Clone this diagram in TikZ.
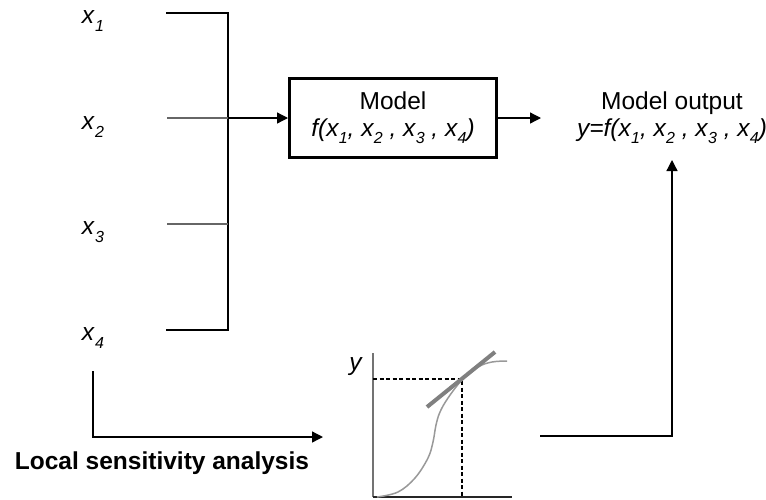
\documentclass[tikz,border=0pt]{standalone}
\usepackage{fontspec}
\setmainfont{Liberation Sans}
\usetikzlibrary{arrows.meta}
\newcommand\xv[1]{\textit{x}\kern0.3pt\raisebox{-0.32em}{\fontsize{16}{16}\selectfont\textit{#1}}}
\begin{document}
\begin{tikzpicture}[x=1pt,y=-1pt,
  conn/.style={line width=1.3pt, black},
  stub/.style={line width=1.8pt, black!60},
  tip/.style={-{Triangle[length=11pt,width=11pt]}},
  lbl/.style={font=\fontsize{24.5}{28}\selectfont, inner sep=0pt},
  axis/.style={line width=2pt, black!55},
  guide/.style={line width=1.2pt, black, dash pattern=on 4pt off 2.5pt}]
\useasboundingbox (0,0) rectangle (766,499);
% input labels
\node[lbl] (x1) at (93,21) {\xv{1}};
\node[lbl] (x2) at (93,127) {\xv{2}};
\node[lbl] (x3) at (93,232) {\xv{3}};
\node[lbl] (x4) at (93,338) {\xv{4}};
% stubs and collector
\coordinate (s1) at (166,13);
\coordinate (s2) at (167,118);
\coordinate (s3) at (167,224);
\coordinate (s4) at (166,330);
\coordinate (c1) at (228,13);
\coordinate (c2) at (228,118);
\coordinate (c3) at (228,224);
\coordinate (c4) at (228,330);
\draw[conn] (s1) -- (c1) -- (c4) -- (s4);
\draw[stub] (s2) -- (c2);
\draw[stub] (s3) -- (c3);
% model box
\node[lbl, draw, line width=3pt, minimum width=207pt, minimum height=79pt, align=center] (model) at (393,118)
  {Model\\[-1.5pt]{\itshape f(\xv{1}, \xv{2} , \xv{3} , \xv{4})}};
\draw[conn,tip] (c2) -- (model.west);
\coordinate (mo) at (541,118);
\draw[conn,tip] (model.east) -- (mo);
% output
\node[lbl, align=center] (out) at (672,118)
  {Model output\\[-1.5pt]{\itshape y=f(\xv{1}, \xv{2} , \xv{3} , \xv{4})}};
% local sensitivity arrow
\coordinate (l0) at (93,371);
\coordinate (l1) at (323,437);
\draw[conn,tip] (l0) |- (l1);
\node[lbl, font=\fontsize{24.5}{28}\selectfont\bfseries] (lsa) at (162,463) {Local sensitivity analysis};
% plot
\coordinate (o) at (373,497);
\coordinate (yt) at (373,353);
\coordinate (xe) at (512,497);
\coordinate (p) at (462,379);
\draw[axis] (yt) -- (o);
\draw[line width=2pt, black!85] (o) -- (xe);
\node[lbl] (ylab) at (356,367) {\textit{y}};
\draw[guide] (o |- p) -- (p) -- (p |- o);
\draw[line width=1.5pt, black!40] plot[smooth, tension=0.6] coordinates
  {(377,497) (398,492) (415,478) (428,458) (433,442) (436,425) (440,412) (448,398) (462,380) (478,367) (492,362) (507,361)};
\draw[line width=4pt, black!50] (427,407) -- (495,352);
% plot to output
\coordinate (r0) at (540,436);
\coordinate (oin) at (672,160);
\draw[conn,tip] (r0) -| (oin);
\end{tikzpicture}
\end{document}
